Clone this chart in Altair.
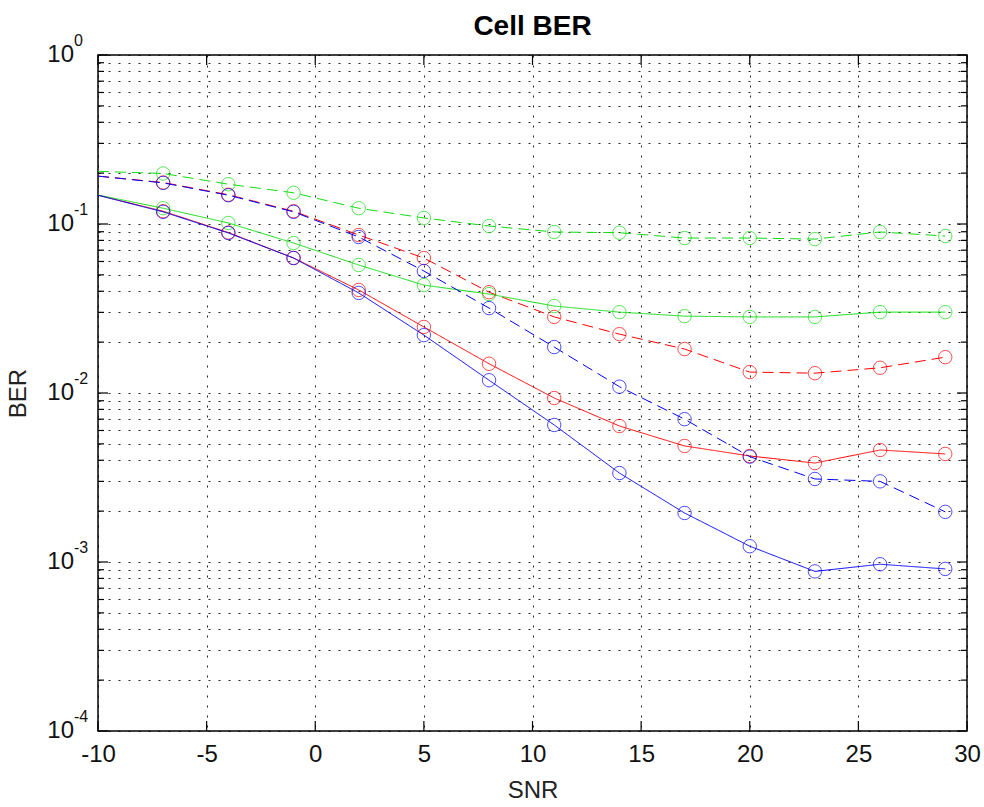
import altair as alt
import pandas as pd

# ---------------- data ----------------
snr = [-10, -7, -4, -1, 2, 5, 8, 11, 14, 17, 20, 23, 26, 29]

ber_red_solid = [0.148, 0.119, 0.089, 0.063, 0.0407, 0.0246, 0.0149, 0.00934,
                 0.00638, 0.00486, 0.00424, 0.00385, 0.0046, 0.00436]
ber_red_dashed = [0.192, 0.176, 0.149, 0.119, 0.0861, 0.0629, 0.0395, 0.0282,
                  0.0223, 0.0182, 0.0133, 0.0131, 0.0141, 0.0163]
ber_green_solid = [0.1485, 0.124, 0.1014, 0.0772, 0.0572, 0.0435, 0.0385, 0.0327,
                   0.0301, 0.0285, 0.0282, 0.0282, 0.0301, 0.0301]
ber_green_dashed = [0.205, 0.199, 0.172, 0.153, 0.124, 0.1086, 0.0973, 0.0897,
                    0.0888, 0.0826, 0.0826, 0.0814, 0.0897, 0.0849]
ber_blue_solid = [0.148, 0.118, 0.0885, 0.0629, 0.0391, 0.0220, 0.0119, 0.00647,
                  0.00336, 0.00195, 0.00124, 0.00088, 0.00097, 0.00091]
ber_blue_dashed = [0.192, 0.175, 0.148, 0.118, 0.0838, 0.0527, 0.0318, 0.0187,
                   0.0109, 0.0070, 0.0042, 0.0031, 0.0030, 0.00198]

series_names = ["red solid", "red dashed", "green solid", "green dashed",
                "blue solid", "blue dashed"]
series_values = [ber_red_solid, ber_red_dashed, ber_green_solid, ber_green_dashed,
                 ber_blue_solid, ber_blue_dashed]
series_colors = ["#ff0000", "#ff0000", "#11dd11", "#11dd11", "#0000ff", "#0000ff"]
series_dash = ["solid", "dashed", "solid", "dashed", "solid", "dashed"]

title_text = ["Cell BER"]
x_ticks = [-10, -5, 0, 5, 10, 15, 20, 25, 30]
y_major = [1, 0.1, 0.01, 0.001, 0.0001]
y_major_exp = ["0", "-1", "-2", "-3", "-4"]
y_minor = [0.9, 0.8, 0.7, 0.6, 0.5, 0.4, 0.3, 0.2,
           0.09, 0.08, 0.07, 0.06, 0.05, 0.04, 0.03, 0.02,
           0.009, 0.008, 0.007, 0.006, 0.005, 0.004, 0.003, 0.002,
           0.0009, 0.0008, 0.0007, 0.0006, 0.0005, 0.0004, 0.0003, 0.0002]

# ---------------- tables ----------------
rows = []
for name, vals, dash in zip(series_names, series_values, series_dash):
    for s, b in zip(snr, vals):
        rows.append({"snr": s, "ber": b, "series": name, "dash": dash})
df = pd.DataFrame(rows)

ymaj_df = pd.DataFrame({"ber": y_major, "exp": y_major_exp,
                        "base": ["10"] * len(y_major)})
ymin_df = pd.DataFrame({"ber": y_minor})
xt_df = pd.DataFrame({"snr": x_ticks})
title_df = pd.DataFrame({"t": title_text})

W, H = 869, 676
FONT = "Liberation Sans"
xscale = alt.Scale(domain=[-10, 30], nice=False, zero=False)
yscale = alt.Scale(type="log", domain=[0.0001, 1], nice=False)

color = alt.Color("series:N", scale=alt.Scale(domain=series_names, range=series_colors),
                  legend=None)

x_axis = alt.Axis(values=x_ticks, title="SNR", grid=True, gridDash=[2, 8],
                  gridColor="black", gridOpacity=0.85, gridWidth=1,
                  ticks=False, domain=False, labelFont=FONT, labelFontSize=24,
                  labelColor="#111111", labelPadding=11, labelFlush=False,
                  labelExpr="'' + datum.value",
                  titleFont=FONT, titleFontSize=24, titleFontWeight="normal",
                  titleColor="#222222", titlePadding=12)
y_axis = alt.Axis(values=y_major + y_minor, labels=False, ticks=False, domain=False,
                  grid=True, gridDash=[2, 8], gridColor="black", gridOpacity=0.85,
                  gridWidth=1, title="BER", titleFont=FONT, titleFontSize=24,
                  titleFontWeight="normal", titleColor="#222222",
                  titleX=-80, titleY=H / 2, titleAlign="center", titleBaseline="middle")

X = alt.X("snr:Q", scale=xscale, axis=x_axis)
Y = alt.Y("ber:Q", scale=yscale, axis=y_axis)

lines = alt.Chart(df).mark_line(strokeWidth=1).encode(
    x=X, y=Y, color=color,
    strokeDash=alt.StrokeDash("dash:N", scale=alt.Scale(domain=["solid", "dashed"],
                                                         range=[[1, 0], [11, 6]]),
                              legend=None),
    detail="series:N",
)

points = alt.Chart(df).transform_filter("datum.snr > -10").mark_point(
    shape="circle", filled=False, size=180, strokeWidth=1
).encode(x=X, y=Y, color=color)

def yrule(data, x0, x1):
    return alt.Chart(data).mark_rule(color="black", strokeWidth=1.2).encode(
        y=Y, x=alt.value(x0), x2=alt.value(x1))

def xrule(data, y0, y1):
    return alt.Chart(data).mark_rule(color="black", strokeWidth=1.2).encode(
        x=X, y=alt.value(y0), y2=alt.value(y1))

ticks = [
    yrule(ymaj_df, 0, 10), yrule(ymaj_df, W - 10, W),
    yrule(ymin_df, 0, 6), yrule(ymin_df, W - 6, W),
    xrule(xt_df, H - 10, H), xrule(xt_df, 0, 10),
]

ylab_base = alt.Chart(ymaj_df).mark_text(
    font=FONT, fontSize=24, align="right", baseline="middle", color="#111111"
).encode(y=Y, x=alt.value(-24), text="base:N")

ylab_exp = alt.Chart(ymaj_df).mark_text(
    font=FONT, fontSize=16, align="left", baseline="middle", dy=-14, color="#111111"
).encode(y=Y, x=alt.value(-24), text="exp:N")

title = alt.Chart(title_df).mark_text(
    font=FONT, fontSize=28, fontWeight="bold", align="center", baseline="middle",
    color="black"
).encode(x=alt.value(W / 2), y=alt.value(-28), text="t:N")

chart = alt.layer(lines, *ticks, points, ylab_base, ylab_exp, title).properties(
    width=W, height=H,
    autosize=alt.AutoSizeParams(type="none"),
    padding={"left": 98, "top": 55, "right": 17, "bottom": 76},
    background="white",
).configure_view(stroke="black", strokeWidth=1.5)

chart.save("out.html", embed_options={"renderer": "svg", "actions": False})
